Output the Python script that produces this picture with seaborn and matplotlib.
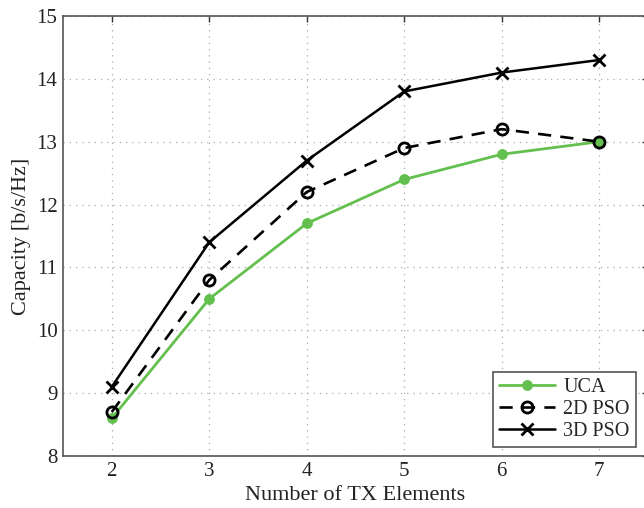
import matplotlib
matplotlib.use('Agg')
import matplotlib.pyplot as plt
import seaborn as sns
import numpy as np
import pandas as pd

# data
tx_elements = [2, 3, 4, 5, 6, 7]
uca = [8.6, 10.5, 11.7, 12.4, 12.8, 13.0]
pso_2d = [8.7, 10.8, 12.2, 12.9, 13.2, 13.0]
pso_3d = [9.1, 11.4, 12.7, 13.8, 14.1, 14.3]

sns.set_style('white')
plt.rcParams['font.family'] = ['Liberation Serif', 'DejaVu Serif']
plt.rcParams['xtick.direction'] = 'in'
plt.rcParams['ytick.direction'] = 'in'

fig = plt.figure(figsize=(6.44, 5.08), dpi=100)
ax = fig.add_axes([63/644, 1 - 456/508, (648 - 63)/644, (456 - 16)/508])

green = '#63c04e'
sns.lineplot(x=tx_elements, y=uca, ax=ax, color=green, lw=2, marker='o',
             markersize=7, markeredgecolor=green, label='UCA')
sns.lineplot(x=tx_elements, y=pso_2d, ax=ax, color='black', lw=1.9,
             dashes=(5, 3.5), marker='o', markersize=8, markerfacecolor='none',
             markeredgecolor='black', markeredgewidth=2, label='2D PSO')
sns.lineplot(x=tx_elements, y=pso_3d, ax=ax, color='black', lw=1.8,
             marker='x', markersize=8, markeredgewidth=2,
             markeredgecolor='black', label='3D PSO')

ax.set_xlim(1.5, 7.5)
ax.set_ylim(8, 15)
ax.set_xticks(tx_elements)
ax.set_yticks(range(8, 16))
ax.grid(True, linestyle=(0, (1, 4)), color='#aaaaaa', lw=0.9)
for s in ax.spines.values():
    s.set_color('#555555')
    s.set_linewidth(1.2)
ax.tick_params(labelsize=15, colors='#333333', length=4, width=1, pad=4,
               top=True, right=True)
for lbl in ax.get_xticklabels() + ax.get_yticklabels():
    lbl.set_color('#222222')

ax.set_xlabel('Number of TX Elements', fontsize=16, color='#222222', labelpad=4)
ax.set_ylabel('Capacity [b/s/Hz]', fontsize=16, color='#222222', labelpad=4)

leg = ax.legend(loc='lower right', bbox_to_anchor=(0.979, 0.02), fontsize=14.5,
                fancybox=False, framealpha=1, edgecolor='#555555',
                borderpad=0.3, labelspacing=0.15, handlelength=2.8,
                handletextpad=0.4, borderaxespad=0)
leg.get_frame().set_linewidth(1.2)

fig.savefig('out.png', dpi=100)
